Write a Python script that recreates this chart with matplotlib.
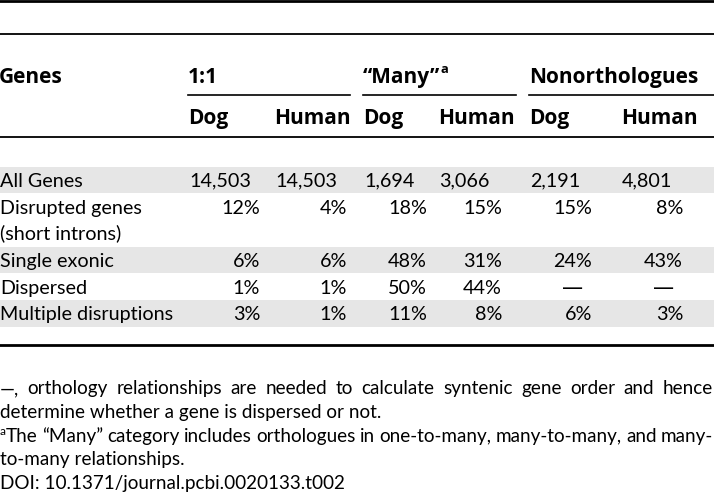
import matplotlib
matplotlib.use("Agg")
import matplotlib.pyplot as plt

W, H = 714, 494

groups = ["1:1", "\u201cMany\u201d", "Nonorthologues"]
species = ["Dog", "Human"]
row_labels = ["All Genes", "Disrupted genes\n(short introns)", "Single exonic",
              "Dispersed", "Multiple disruptions"]
all_genes = ["14,503", "14,503", "1,694", "3,066", "2,191", "4,801"]
disrupted = ["12%", "4%", "18%", "15%", "15%", "8%"]
single_exonic = ["6%", "6%", "48%", "31%", "24%", "43%"]
dispersed = ["1%", "1%", "50%", "44%", "\u2014", "\u2014"]
multiple = ["3%", "1%", "11%", "8%", "6%", "3%"]

footnotes = [
    "\u2014, orthology relationships are needed to calculate syntenic gene order and hence",
    "determine whether a gene is dispersed or not.",
    "The \u201cMany\u201d category includes orthologues in one-to-many, many-to-many, and many-",
    "to-many relationships.",
    "DOI: 10.1371/journal.pcbi.0020133.t002",
]
justify = [True, False, True, False, False]

FONT = "Lato"
BFONT = "Open Sans"
FS = 14.2
FFS = 13.6
BFS = 15.0
SHADE = "#e6e6e6"

col_left = [189, 275, 364, 439, 530, 622]
col_right = [260, 347, 427, 502, 592, 683]
group_x = [(188, 350), (363, 516), (529, 714)]

fig = plt.figure(figsize=(W / 100, H / 100), dpi=100)
ax = fig.add_axes([0, 0, 1, 1])
ax.set_xlim(0, W)
ax.set_ylim(H, 0)
ax.axis("off")
fig.canvas.draw()
renderer = fig.canvas.get_renderer()


def text_width(s, **kw):
    t = ax.text(0, 0, s, **kw)
    w = t.get_window_extent(renderer).width
    t.remove()
    return w


# rules
ax.axhline(1, color="black", lw=2.0)
ax.axhline(34, color="black", lw=1.3)
ax.axhline(137, color="black", lw=1.3)
ax.axhline(345, color="black", lw=2.0)

bold = dict(fontsize=BFS, fontweight="bold", family=BFONT)
reg = dict(fontsize=FS, family=FONT)
foot = dict(fontsize=FFS, family=FONT)

# header
ax.text(-1, 83, "Genes", **bold)
for (x0, x1), g in zip(group_x, groups):
    ax.text(x0, 83, g, **bold)
    ax.plot([x0, x1], [95, 95], color="black", lw=1.2)
    if g.startswith("\u201c"):
        ax.text(x0 + text_width(g, **bold) + 0.5, 73, "a", fontsize=BFS * 0.62,
                fontweight="bold", family=BFONT)
for i, x in enumerate(col_left):
    ax.text(x - 1, 123.5, species[i % 2], **bold)

# body bands
bands = [(167, 193, True), (193, 247, False), (247, 273, True), (273, 300, False), (300, 327, True)]
for y0, y1, shaded in bands:
    if shaded:
        ax.axhspan(y0, y1, color=SHADE, lw=0, zorder=0)

row_base = [186.5, 213.5, 266.5, 293.5, 319.5]
ax.text(0, row_base[0], row_labels[0], **reg)
for x, v in zip(col_left, all_genes):
    ax.text(x, row_base[0], v, **reg)

ax.text(0, row_base[1], "Disrupted genes", **reg)
ax.text(0, row_base[1] + 26, "(short introns)", **reg)
for lbl, yb in zip(row_labels[2:], row_base[2:]):
    ax.text(0, yb, lbl, **reg)
for vals, yb in zip([disrupted, single_exonic, dispersed, multiple],
                    [row_base[1]] + row_base[2:]):
    for x, v in zip(col_right, vals):
        if v == "\u2014":
            ax.text(x - 9, yb, v, ha="right", fontsize=FS + 1, family="DejaVu Sans")
        else:
            ax.text(x, yb, v, ha="right", **reg)

# footnotes
foot_base = [394, 418, 442, 465, 489]
for line, just, yb in zip(footnotes, justify, foot_base):
    x0 = 0
    if line.startswith("The"):
        ax.text(0, yb - 7, "a", fontsize=FFS * 0.62, family=FONT)
        x0 = 6
    if not just:
        ax.text(x0, yb, line, **foot)
        continue
    words = line.split(" ")
    widths = [text_width(w, **foot) for w in words]
    gap = (W - 1 - x0 - sum(widths)) / (len(words) - 1)
    x = x0
    for w, wd in zip(words, widths):
        ax.text(x, yb, w, **foot)
        x += wd + gap

fig.savefig("out.png", dpi=100)
